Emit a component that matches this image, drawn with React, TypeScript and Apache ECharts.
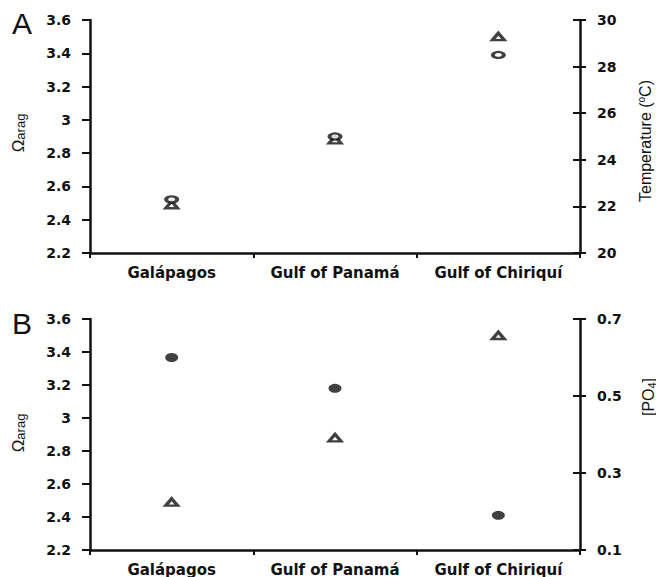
import React, { useEffect, useRef } from "react";
import * as echarts from "echarts";

// ---- data ----
const sites = ["Galápagos", "Gulf of Panamá", "Gulf of Chiriquí"];
const omegaArag = [2.49, 2.88, 3.5];
const temperature = [22.3, 25.0, 28.5];
const phosphate = [0.6, 0.52, 0.19];
const omegaMin = 2.2;
const omegaMax = 3.6;
const omegaStep = 0.2;
const tempMin = 20;
const tempMax = 30;
const tempStep = 2;
const po4Ticks = [0.1, 0.3, 0.5, 0.7];

const INK = "#111";
const tickFont = { fontFamily: "DejaVu Sans", fontWeight: "bold" as const, fontSize: 14, color: INK };
const catFont = { fontFamily: "DejaVu Sans", fontWeight: "bold" as const, fontSize: 15, color: INK };
const NARROW = "'Liberation Sans Narrow', 'Liberation Sans', Arial, sans-serif";

function leftAxis(gridIndex: number) {
  return {
    type: "value",
    gridIndex,
    position: "left",
    min: omegaMin,
    max: omegaMax,
    interval: omegaStep,
    axisLine: { show: true, lineStyle: { color: INK, width: 2.5 } },
    axisTick: { show: true, length: 8, lineStyle: { color: INK, width: 2 } },
    axisLabel: { ...tickFont, margin: 19 },
    splitLine: { show: false },
  };
}

function xAxis(gridIndex: number) {
  return {
    type: "category",
    gridIndex,
    data: sites,
    boundaryGap: true,
    axisLine: { show: true, onZero: false, lineStyle: { color: INK, width: 2.5 } },
    axisTick: { show: true, interval: 0, length: 5, lineStyle: { color: INK, width: 2 } },
    axisLabel: { ...catFont, margin: 12, interval: 0, hideOverlap: false },
    splitLine: { show: false },
  };
}

export default function App() {
  const ref = useRef<HTMLDivElement>(null);
  useEffect(() => {
    if (!ref.current) return;
    const chart = echarts.init(ref.current, undefined, { renderer: "svg" });
    const hollowTri = {
      symbol: "triangle",
      symbolSize: [12, 7],
      itemStyle: { color: "#fff", borderColor: INK, borderWidth: 3 },
    };
    chart.setOption({
      animation: false,
      backgroundColor: "#fff",
      grid: [
        { left: 90, right: 76, top: 20, height: 233 },
        { left: 90, right: 76, top: 319, height: 233 },
      ],
      xAxis: [xAxis(0), xAxis(1)],
      yAxis: [
        leftAxis(0),
        {
          type: "value",
          gridIndex: 0,
          position: "right",
          min: tempMin,
          max: tempMax,
          interval: tempStep,
          axisLine: { show: true, lineStyle: { color: INK, width: 2.5 } },
          axisTick: { show: true, length: 6, lineStyle: { color: INK, width: 2 } },
          axisLabel: { ...tickFont, margin: 17 },
          splitLine: { show: false },
        },
        {
          type: "value",
          gridIndex: 0,
          position: "right",
          min: tempMin,
          max: tempMax,
          interval: tempStep,
          axisLine: { show: false },
          axisTick: { show: true, inside: true, length: 7, lineStyle: { color: INK, width: 2 } },
          axisLabel: { show: false },
          splitLine: { show: false },
        },
        leftAxis(1),
        {
          type: "value",
          gridIndex: 1,
          position: "right",
          min: po4Ticks[0],
          max: po4Ticks[po4Ticks.length - 1],
          axisLine: { show: true, lineStyle: { color: INK, width: 2.5 } },
          axisTick: { show: true, length: 6, customValues: po4Ticks, lineStyle: { color: INK, width: 2 } },
          axisLabel: { ...tickFont, margin: 17, customValues: po4Ticks },
          splitLine: { show: false },
        },
        {
          type: "value",
          gridIndex: 1,
          position: "right",
          min: po4Ticks[0],
          max: po4Ticks[po4Ticks.length - 1],
          axisLine: { show: false },
          axisTick: { show: true, inside: true, length: 7, customValues: po4Ticks, lineStyle: { color: INK, width: 2 } },
          axisLabel: { show: false },
          splitLine: { show: false },
        },
      ],
      series: [
        { type: "scatter", xAxisIndex: 0, yAxisIndex: 0, data: omegaArag, ...hollowTri, silent: true },
        {
          type: "scatter",
          xAxisIndex: 0,
          yAxisIndex: 1,
          data: temperature,
          symbol: "circle",
          symbolSize: [11, 6],
          itemStyle: { color: "#fff", borderColor: INK, borderWidth: 3 },
          silent: true,
        },
        {
          type: "scatter",
          xAxisIndex: 1,
          yAxisIndex: 4,
          data: phosphate,
          symbol: "circle",
          symbolSize: [13, 9],
          itemStyle: { color: INK },
          silent: true,
        },
        { type: "scatter", xAxisIndex: 1, yAxisIndex: 3, data: omegaArag, ...hollowTri, silent: true },
      ],
      graphic: [
        { type: "text", left: 12, top: 8, style: { text: "A", font: "30px 'Liberation Sans'", fill: INK } },
        { type: "text", left: 12, top: 308, style: { text: "B", font: "30px 'Liberation Sans'", fill: INK } },
        ...[133, 433].map((cy) => ({
          type: "text",
          x: 18,
          y: cy,
          rotation: Math.PI / 2,
          style: {
            text: "{o|Ω}{s|arag}",
            align: "center",
            verticalAlign: "middle",
            fill: INK,
            rich: {
              o: { fontFamily: NARROW, fontSize: 17, lineHeight: 18, fill: INK },
              s: { fontFamily: NARROW, fontSize: 13, lineHeight: 18, verticalAlign: "bottom", fill: INK },
            },
          },
        })),
        {
          type: "text",
          x: 645,
          y: 141,
          rotation: Math.PI / 2,
          style: {
            text: "{t|Temperature (}{u|o}{t|C)}",
            align: "center",
            verticalAlign: "middle",
            fill: INK,
            rich: {
              t: { fontFamily: NARROW, fontSize: 16, lineHeight: 18, fill: INK },
              u: { fontFamily: NARROW, fontSize: 10, lineHeight: 18, verticalAlign: "top", fill: INK },
            },
          },
        },
        {
          type: "text",
          x: 648,
          y: 397,
          rotation: Math.PI / 2,
          style: {
            text: "{t|[PO}{d|4}{t|]}",
            align: "center",
            verticalAlign: "middle",
            fill: INK,
            rich: {
              t: { fontFamily: NARROW, fontSize: 16, lineHeight: 18, fill: INK },
              d: { fontFamily: NARROW, fontSize: 11, lineHeight: 18, verticalAlign: "bottom", fill: INK },
            },
          },
        },
      ],
    });
    return () => chart.dispose();
  }, []);
  return (
    <div
      ref={ref}
      style={{ position: "fixed", left: 0, top: 0, width: 656, height: 577, background: "#fff" }}
    />
  );
}
